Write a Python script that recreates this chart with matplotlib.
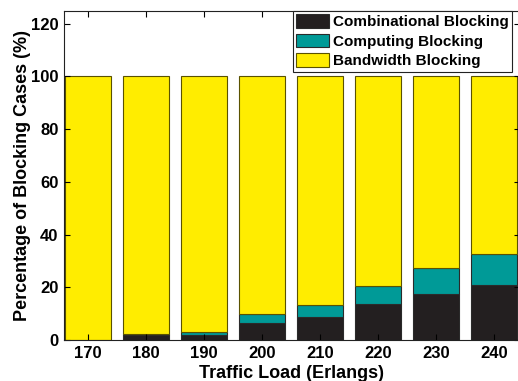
import matplotlib
matplotlib.use("Agg")
import matplotlib.pyplot as plt
import numpy as np

plt.rcParams['font.family'] = ['Liberation Sans', 'DejaVu Sans']
plt.rcParams['font.weight'] = 'bold'

loads = ['170', '180', '190', '200', '210', '220', '230', '240']
combinational = [0.0, 1.9, 2.0, 6.5, 8.8, 13.5, 17.5, 20.8]
computing = [0.0, 0.2, 1.1, 3.2, 4.6, 7.1, 9.8, 11.9]
bandwidth = [100 - c - p for c, p in zip(combinational, computing)]

fig = plt.figure(figsize=(5.18, 3.81), dpi=100)
ax = fig.add_axes([64 / 518, 1 - 340 / 381, 455.5 / 518, 329.5 / 381])

x = np.arange(1, len(loads) + 1)
w = 0.8
ec = '#2a2a2a'
ax.bar(x, combinational, w, color='#231f20', edgecolor=ec, linewidth=0.8,
       label='Combinational Blocking')
ax.bar(x, computing, w, bottom=combinational, color='#009a97', edgecolor=ec,
       linewidth=0.8, label='Computing Blocking')
ax.bar(x, bandwidth, w, bottom=np.add(combinational, computing), color='#ffed00',
       edgecolor='#5a5200', linewidth=0.8, label='Bandwidth Blocking')

ax.set_xlim(0.585, 8.44)
ax.set_ylim(0, 125)
ax.set_xticks(x)
ax.set_xticklabels(loads)
ax.set_yticks([0, 20, 40, 60, 80, 100, 120])
ax.tick_params(direction='in', length=4, width=0.8, labelsize=12, pad=4,
               top=True, right=True)
for lab in ax.get_xticklabels() + ax.get_yticklabels():
    lab.set_fontweight('bold')
for s in ax.spines.values():
    s.set_linewidth(0.8)
    s.set_color('#222222')

ax.set_xlabel('Traffic Load (Erlangs)', fontsize=13, fontweight='bold', labelpad=3)
ax.set_ylabel('Percentage of Blocking Cases (%)', fontsize=13, fontweight='bold', labelpad=0)

leg = ax.legend(loc='upper right', bbox_to_anchor=(448 / 455.5, 1.0), fontsize=11,
                frameon=True, fancybox=False, borderpad=0.22, labelspacing=0.3,
                handlelength=2.15, handleheight=1.0, handletextpad=0.25, borderaxespad=0)
leg.get_frame().set_edgecolor('#222222')
leg.get_frame().set_linewidth(0.8)
leg.get_frame().set_alpha(1)
for t in leg.get_texts():
    t.set_fontweight('bold')

fig.savefig('out.png', dpi=100)
